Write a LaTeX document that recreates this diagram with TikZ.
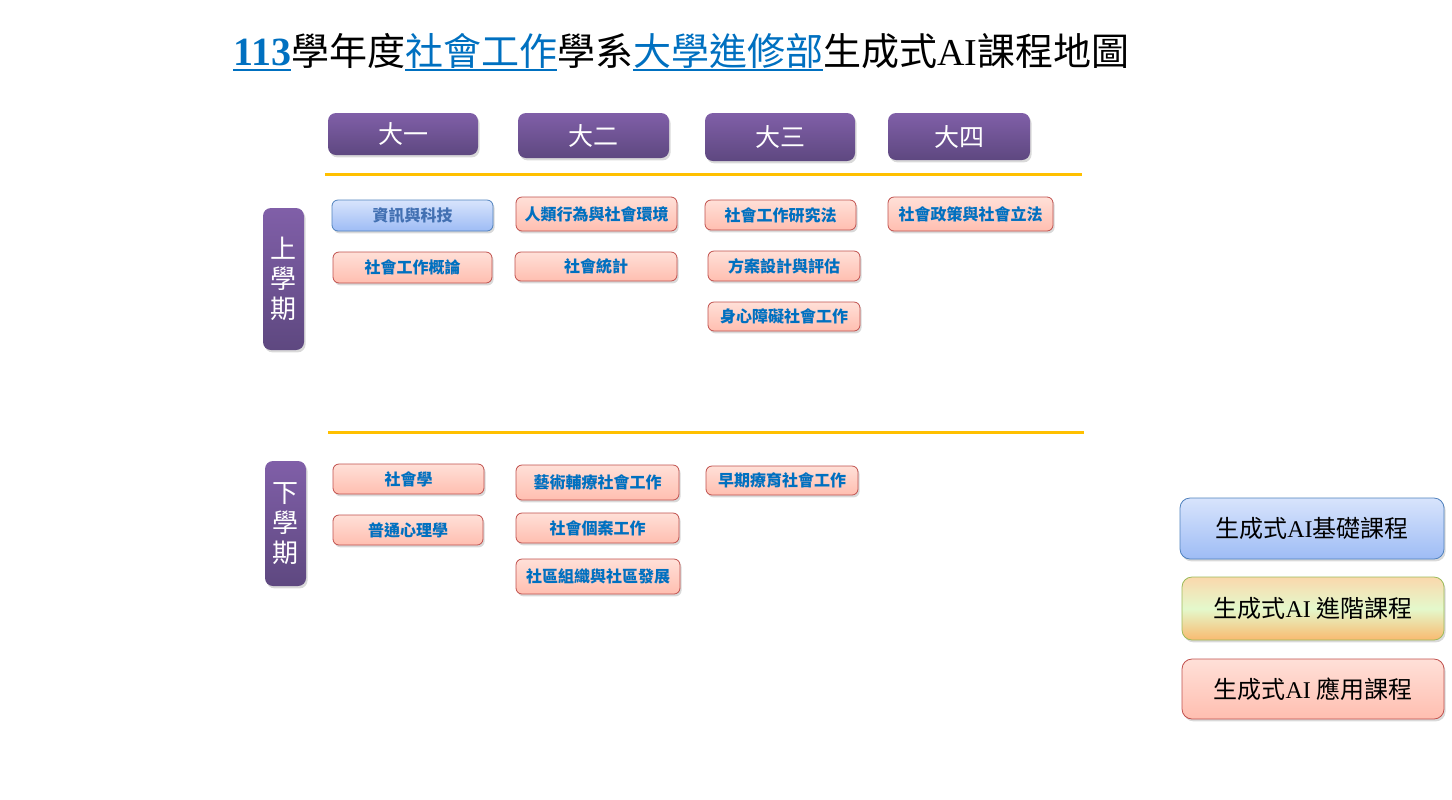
\documentclass[tikz,border=0pt]{standalone}
\usepackage{fontspec}
\usepackage{tikz}
\usetikzlibrary{shadows}
\setmainfont{Liberation Serif}
\newfontfamily\cjk{Noto Sans CJK TC}
\definecolor{titleBlue}{RGB}{0, 112, 192}
\definecolor{purpleTop}{RGB}{128, 95, 168}
\definecolor{purpleBot}{RGB}{94, 72, 128}
\definecolor{pinkTop}{RGB}{255, 224, 216}
\definecolor{pinkBot}{RGB}{255, 190, 176}
\definecolor{pinkLine}{RGB}{192, 80, 77}
\definecolor{blueTop}{RGB}{216, 228, 252}
\definecolor{blueBot}{RGB}{158, 188, 245}
\definecolor{blueLine}{RGB}{79, 129, 189}
\definecolor{blueText}{RGB}{66, 112, 178}
\definecolor{midTop}{RGB}{250, 216, 172}
\definecolor{midMid}{RGB}{228, 249, 204}
\definecolor{midBot}{RGB}{249, 186, 112}
\definecolor{greenLine}{RGB}{155, 187, 89}
\definecolor{lineGold}{RGB}{255, 192, 0}
\newcommand\titleline[1]{\setbox0\hbox{#1}\rlap{\rule[-3pt]{\wd0}{1.1pt}}\box0}

\tikzset{
  boxsize/.style 2 args={minimum width=#1*0.5pt, minimum height=#2*0.5pt},
  softshadow/.style={drop shadow={shadow xshift=0.8pt, shadow yshift=-1.2pt, opacity=0.3}},
  yearbox/.style={rounded corners=4pt, top color=purpleTop, bottom color=purpleBot,
    text=white, softshadow, inner sep=0pt, font=\cjk\fontsize{12.5}{14}\selectfont},
  termbox/.style={yearbox, align=center, font=\cjk\fontsize{13}{15}\selectfont},
  course/.style={rounded corners=3pt, draw=pinkLine, top color=pinkTop, bottom color=pinkBot,
    text=titleBlue, softshadow, inner sep=0pt, font=\cjk\bfseries\fontsize{8}{10}\selectfont},
  basic/.style={course, draw=blueLine, top color=blueTop, bottom color=blueBot, text=blueText},
  legend/.style={rounded corners=5pt, draw=pinkLine, top color=pinkTop, bottom color=pinkBot,
    softshadow, inner sep=0pt, font=\cjk\fontsize{12}{14}\selectfont}
}

\begin{document}
\begin{tikzpicture}[x=0.5pt, y=-0.5pt]
  \useasboundingbox (0,0) rectangle (1452,799);

  \node[anchor=base west, inner sep=0pt] (title) at (233,65)
    {{\fontsize{20}{24}\selectfont\bfseries\color{titleBlue}\titleline{113}}{\cjk\fontsize{19}{23}\selectfont 學年度{\color{titleBlue}\titleline{社會工作}}學系{\color{titleBlue}\titleline{大學進修部}}生成式{\rmfamily AI}課程地圖}};

  \node[yearbox, boxsize={150}{42}] (y1) at (403,134) {大一};
  \node[yearbox, boxsize={151}{45}] (y2) at (593.5,135.5) {大二};
  \node[yearbox, boxsize={150}{48}] (y3) at (780,137) {大三};
  \node[yearbox, boxsize={142}{47}] (y4) at (959,136.5) {大四};

  \draw[lineGold, line width=1.5pt] (325,174) -- (1082,174);
  \draw[lineGold, line width=1.5pt] (328,432) -- (1084,432);

  \node[termbox, boxsize={41}{142}] (up) at (283.5,279) {上\\學\\期};
  \node[termbox, boxsize={41}{125}] (down) at (285.5,523.5) {下\\學\\期};

  \node[basic, boxsize={161}{31}] (c11) at (412.5,215.5) {資訊與科技};
  \node[course, boxsize={159}{31}] (c12) at (412.5,267.5) {社會工作概論};
  \node[course, boxsize={151}{30}] (c13) at (408.5,479) {社會學};
  \node[course, boxsize={150}{30}] (c14) at (408,530) {普通心理學};

  \node[course, boxsize={161}{34}] (c21) at (596.5,214) {人類行為與社會環境};
  \node[course, boxsize={162}{29}] (c22) at (596,266.5) {社會統計};
  \node[course, boxsize={163}{35}] (c23) at (597.5,482.5) {藝術輔療社會工作};
  \node[course, boxsize={163}{30}] (c24) at (597.5,528) {社會個案工作};
  \node[course, boxsize={164}{35}] (c25) at (598,576.5) {社區組織與社區發展};

  \node[course, boxsize={151}{30}] (c31) at (780.5,215) {社會工作研究法};
  \node[course, boxsize={152}{30}] (c32) at (784,266) {方案設計與評估};
  \node[course, boxsize={152}{29}] (c33) at (784,316.5) {身心障礙社會工作};
  \node[course, boxsize={152}{29}] (c34) at (782,480.5) {早期療育社會工作};

  \node[course, boxsize={165}{34}] (c41) at (970.5,214) {社會政策與社會立法};

  \node[legend, draw=blueLine, top color=blueTop, bottom color=blueBot, boxsize={264}{61}] (lg1) at (1312,528.5) {生成式{\rmfamily AI}基礎課程};
  \node[legend, draw=greenLine, top color=midTop, bottom color=midBot, middle color=midMid, boxsize={262}{63}] (lg2) at (1313,608.5) {生成式{\rmfamily AI} 進階課程};
  \node[legend, boxsize={262}{60}] (lg3) at (1313,689) {生成式{\rmfamily AI} 應用課程};
\end{tikzpicture}
\end{document}
